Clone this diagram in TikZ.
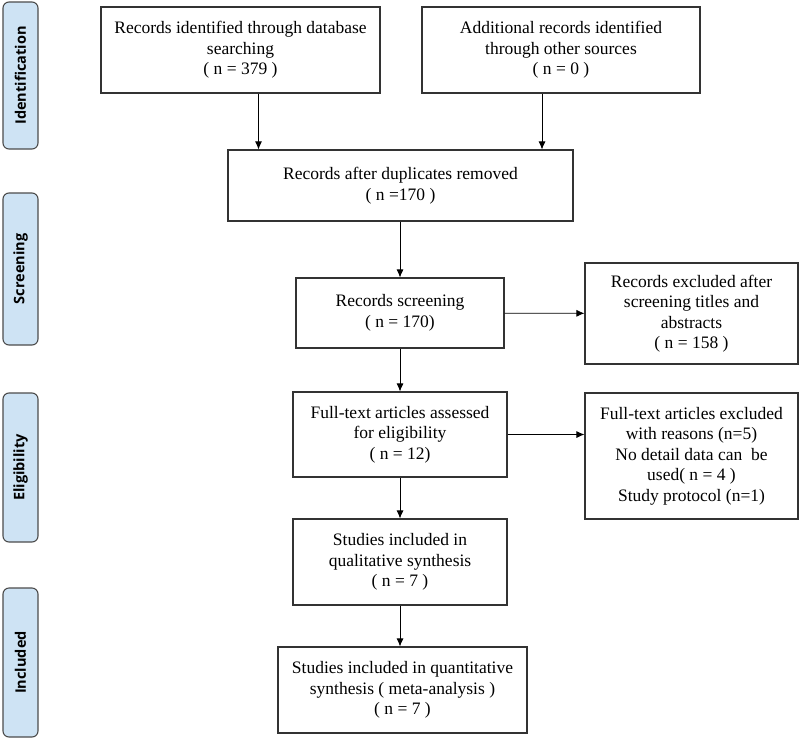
\documentclass[tikz,border=0pt]{standalone}
\usepackage{fontspec}
\setmainfont{Liberation Serif}
\newfontfamily\labelfont{Open Sans}
\usetikzlibrary{arrows.meta}
\definecolor{labelblue}{RGB}{206,227,244}

\begin{document}
\begin{tikzpicture}[x=1pt, y=-1pt, main node/.style={rectangle, draw=black!80, line width=1.1pt, align=center, inner sep=2pt, font=\fontsize{17.5}{20.5}\selectfont}, side node/.style={rectangle, rounded corners=6pt, draw=black!70, line width=1.1pt, fill=labelblue, rotate=90, font=\labelfont\bfseries\fontsize{14.5}{16}\selectfont}, >={Latex[length=8pt,width=7pt]}]

\useasboundingbox (0,0) rectangle (800,739);

\node[side node, minimum width=147pt, minimum height=35pt] (s1) at (20.5,75.5) {Identification};
\node[side node, minimum width=152pt, minimum height=35pt] (s2) at (20.5,269) {Screening};
\node[side node, minimum width=149pt, minimum height=35pt] (s3) at (20.5,467.5) {Eligibility};
\node[side node, minimum width=149pt, minimum height=35pt] (s4) at (20.5,662.5) {Included};

\node[main node, minimum width=279pt, minimum height=86pt] (n1) at (240.5,50) {Records identified through database\\ searching\\ ( n = 379 )};
\node[main node, minimum width=278pt, minimum height=86pt] (n2) at (561,50) {Additional records identified\\ through other sources\\ ( n = 0 )};
\node[main node, minimum width=345pt, minimum height=71pt] (n3) at (400.5,185.5) {Records after duplicates removed\\ ( n =170 )};
\node[main node, minimum width=208pt, minimum height=70pt] (n4) at (400,313) {Records screening\\ ( n = 170)};
\node[main node, minimum width=213pt, minimum height=101pt] (n5) at (691.5,313.5) {Records excluded after\\ screening titles and\\ abstracts\\ ( n = 158 )};
\node[main node, minimum width=214pt, minimum height=85pt] (n6) at (400,434.5) {Full-text articles assessed\\ for eligibility\\ ( n = 12)};
\node[main node, minimum width=213pt, minimum height=126pt] (n7) at (691.5,456) {Full-text articles excluded\\ with reasons (n=5)\\ No detail data can~ be\\ used( n = 4 )\\ Study protocol (n=1)};
\node[main node, minimum width=214pt, minimum height=86pt] (n8) at (400,562) {Studies included in\\ qualitative synthesis\\ ( n = 7 )};
\node[main node, minimum width=249pt, minimum height=86pt] (n9) at (402.5,690) {Studies included in quantitative\\ synthesis ( meta-analysis )\\ ( n = 7 )};


\path[] ([xshift=18pt]n1.south) [->, thick] edge ([xshift=18pt]n1.south |- n3.north);
\path[] ([xshift=-19pt]n2.south) [->, thick] edge ([xshift=-19pt]n2.south |- n3.north);
\path[] (n3.south -| n4.north) [->, thick] edge (n4.north);
\path[] (n4) [->, thick] edge (n5);
\path[] (n4) [->, thick] edge (n6);
\path[] (n6.east) [->, thick] edge (n6.east -| n7.west);
\path[] (n6) [->, thick] edge (n8);
\path[] (n8.south) [->, thick] edge (n8.south |- n9.north);
\end{tikzpicture}
\end{document}
